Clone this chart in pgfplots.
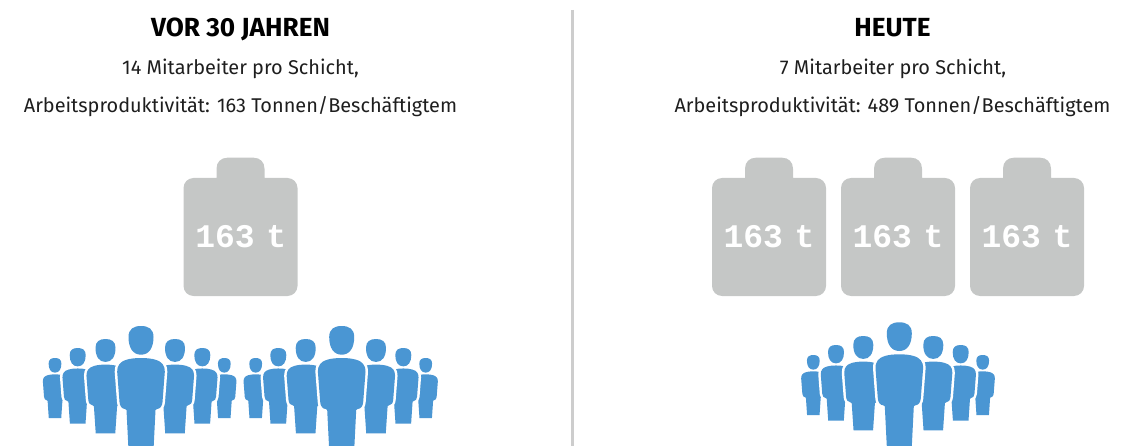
\documentclass[border=0pt]{standalone}
\usepackage{fontspec}
\setmainfont{Fira Sans}
\newfontfamily\monofont{Liberation Mono}
\usepackage{pgfplots}
\pgfplotsset{compat=1.18}

\definecolor{peopleblue}{HTML}{4A96D3}
\definecolor{weightgrey}{HTML}{C5C7C6}
\definecolor{dividergrey}{HTML}{CDCDCD}
\definecolor{bodytext}{HTML}{1E1E1E}

% person, origin at the top of the head, 1 unit = 1 px of the biggest figure
\newcommand{\px}[2]{\pgfqpoint{#1pt}{#2pt}}
\newcommand{\personpath}[1]{%
  \pgfpathmoveto{\px{0}{0}}%
  \pgfpathcurveto{\px{7.5}{0}}{\px{12.5}{-3}}{\px{12.5}{-11}}%
  \pgfpathcurveto{\px{12.5}{-22}}{\px{8}{-28.7}}{\px{0}{-28.7}}%
  \pgfpathcurveto{\px{-8}{-28.7}}{\px{-12.5}{-22}}{\px{-12.5}{-11}}%
  \pgfpathcurveto{\px{-12.5}{-3}}{\px{-7.5}{0}}{\px{0}{0}}%
  \pgfpathclose
  \pgfpathmoveto{\px{0}{-32}}%
  \pgfpathcurveto{\px{12}{-32}}{\px{19}{-34.5}}{\px{21.5}{-38}}%
  \pgfpathcurveto{\px{23}{-40}}{\px{23.8}{-42}}{\px{23.8}{-46}}%
  \pgfpathlineto{\px{21.5}{-76}}%
  \pgfpathcurveto{\px{21.3}{-80}}{\px{19}{-83}}{\px{16}{-83}}%
  \pgfpathlineto{\px{14.5}{-84}}%
  \pgfpathlineto{\px{12.2}{-#1}}%
  \pgfpathlineto{\px{-12.2}{-#1}}%
  \pgfpathlineto{\px{-14.5}{-84}}%
  \pgfpathlineto{\px{-16}{-83}}%
  \pgfpathcurveto{\px{-19}{-83}}{\px{-21.3}{-80}}{\px{-21.5}{-76}}%
  \pgfpathlineto{\px{-23.8}{-46}}%
  \pgfpathcurveto{\px{-23.8}{-42}}{\px{-23}{-40}}{\px{-21.5}{-38}}%
  \pgfpathcurveto{\px{-19}{-34.5}}{\px{-12}{-32}}{\px{0}{-32}}%
  \pgfpathclose}
\pgfdeclareplotmark{person}{%
  \pgfsetroundjoin
  \personpath{118}\pgfusepathqstroke
  \personpath{118}\pgfusepathqfill}
\pgfdeclareplotmark{personlong}{%
  \pgfsetroundjoin
  \personpath{130}\pgfusepathqstroke
  \personpath{130}\pgfusepathqfill}
% weight, origin in the middle of the block
\pgfdeclareplotmark{weight}{%
  \pgfpathmoveto{\px{-47}{-59}}%
  \pgfpathlineto{\px{47}{-59}}%
  \pgfpathcurveto{\px{52.5}{-59}}{\px{57}{-54.5}}{\px{57}{-49}}%
  \pgfpathlineto{\px{57}{49}}%
  \pgfpathcurveto{\px{57}{54.5}}{\px{52.5}{59}}{\px{47}{59}}%
  \pgfpathlineto{\px{-47}{59}}%
  \pgfpathcurveto{\px{-52.5}{59}}{\px{-57}{54.5}}{\px{-57}{49}}%
  \pgfpathlineto{\px{-57}{-49}}%
  \pgfpathcurveto{\px{-57}{-54.5}}{\px{-52.5}{-59}}{\px{-47}{-59}}%
  \pgfpathclose
  \pgfpathmoveto{\px{-24}{40}}%
  \pgfpathlineto{\px{24}{40}}%
  \pgfpathlineto{\px{24}{68.3}}%
  \pgfpathcurveto{\px{24}{75}}{\px{19.5}{79.3}}{\px{13}{79.3}}%
  \pgfpathlineto{\px{-13}{79.3}}%
  \pgfpathcurveto{\px{-19.5}{79.3}}{\px{-24}{75}}{\px{-24}{68.3}}%
  \pgfpathclose
  \pgfsetnonzerorule
  \pgfusepathqfill}

\pgfplotsset{
  people/.style={only marks, mark=person,
    mark options={draw=white, fill=peopleblue, line width=5pt, scale=#1}},
}
\newcommand{\weightlabel}{163\hspace{-8pt} t}

\begin{document}
\begin{tikzpicture}
\begin{axis}[
    scale only axis,
    width=1137pt,
    height=446pt,
    xmin=0, xmax=1137,
    ymin=0, ymax=446,
    y dir=reverse,
    hide axis,
    clip marker paths=true,
]
    \addplot[draw=dividergrey, line width=3.2pt] coordinates {(572.3,10) (572.3,446)};

    % weights
    \addplot[only marks, mark=weight, mark options={draw=none, fill=weightgrey}]
      coordinates {(240.5,237) (769,237) (898,237) (1027,237)};

    % outer row first, the middle figure on top
    \addplot[people=0.51] coordinates {
      (55,358) (224.3,358) (255.7,358) (425.7,358)
      (813.3,355) (982.7,355)};
    \addplot[people=0.64] coordinates {
      (77.7,348) (202.3,348) (278.3,348) (403.3,348)
      (836,345) (960.7,345)};
    \addplot[people=0.80] coordinates {
      (105.5,339) (175,339) (305.7,339) (376,339)
      (863.3,336) (933.3,336)};
    \addplot[only marks, mark=personlong,
      mark options={draw=white, fill=peopleblue, line width=5pt}]
      coordinates {(141,326) (341.7,326) (899.3,322.3)};

    \node[anchor=base, font=\fontsize{26.2}{26}\selectfont\bfseries, text=black]
      at (axis cs:240.5,37) {VOR 30 JAHREN};
    \node[anchor=base, font=\fontsize{19.9}{20}\selectfont, text=bodytext]
      at (axis cs:240.5,75) {14 Mitarbeiter pro Schicht,};
    \node[anchor=base, font=\fontsize{19.9}{20}\selectfont, text=bodytext]
      at (axis cs:240.5,112.7) {Arbeitsproduktivität: 163 Tonnen/Beschäftigtem};

    \node[anchor=base, font=\fontsize{26.2}{26}\selectfont\bfseries, text=black]
      at (axis cs:892.5,37) {HEUTE};
    \node[anchor=base, font=\fontsize{19.9}{20}\selectfont, text=bodytext]
      at (axis cs:893,75) {7 Mitarbeiter pro Schicht,};
    \node[anchor=base, font=\fontsize{19.9}{20}\selectfont, text=bodytext]
      at (axis cs:892.5,112.7) {Arbeitsproduktivität: 489 Tonnen/Beschäftigtem};

    \node[anchor=base, font=\monofont\fontsize{33}{33}\selectfont\bfseries, text=white, inner sep=0pt]
      at (axis cs:240.8,247.7) {\weightlabel};
    \node[anchor=base, font=\monofont\fontsize{33}{33}\selectfont\bfseries, text=white, inner sep=0pt]
      at (axis cs:769,247.7) {\weightlabel};
    \node[anchor=base, font=\monofont\fontsize{33}{33}\selectfont\bfseries, text=white, inner sep=0pt]
      at (axis cs:898,247.7) {\weightlabel};
    \node[anchor=base, font=\monofont\fontsize{33}{33}\selectfont\bfseries, text=white, inner sep=0pt]
      at (axis cs:1027,247.7) {\weightlabel};
\end{axis}
\pgfresetboundingbox
\useasboundingbox (current axis.south west) rectangle (current axis.north east);
\end{tikzpicture}
\end{document}
